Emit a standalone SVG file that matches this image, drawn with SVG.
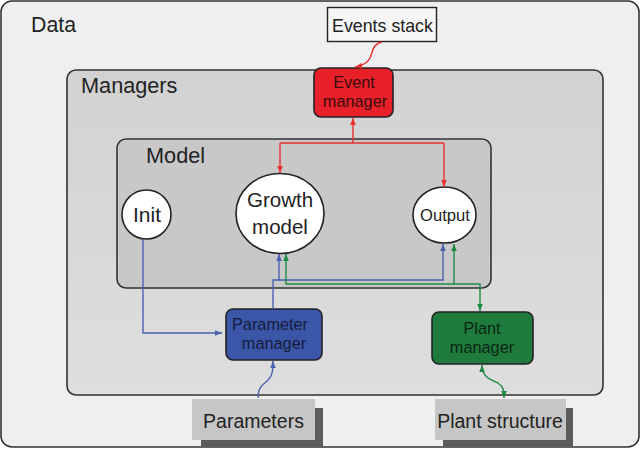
<svg xmlns="http://www.w3.org/2000/svg" width="640" height="449" viewBox="0 0 640 449">
<defs>
<style>
text{font-family:"Liberation Sans",Arial,Helvetica,sans-serif;fill:#222;}
.frame{stroke:#333;stroke-width:1.6;}
.node{stroke:#222;stroke-width:1.6;}
.circ{fill:#fff;stroke:#222;stroke-width:1.6;}
.r{fill:none;stroke:#e8302f;stroke-width:1.4;}
.b{fill:none;stroke:#4a62b0;stroke-width:1.4;}
.g{fill:none;stroke:#1f8a45;stroke-width:1.4;}
.mid{text-anchor:middle;}
</style>
<marker id="ar" viewBox="0 0 10 10" refX="10" refY="5" markerWidth="7" markerHeight="7" markerUnits="userSpaceOnUse" orient="auto-start-reverse"><path d="M0,1 L10,5 L0,9 z" fill="#e8302f"/></marker>
<marker id="ab" viewBox="0 0 10 10" refX="10" refY="5" markerWidth="7" markerHeight="7" markerUnits="userSpaceOnUse" orient="auto-start-reverse"><path d="M0,1 L10,5 L0,9 z" fill="#4a62b0"/></marker>
<marker id="ag" viewBox="0 0 10 10" refX="10" refY="5" markerWidth="7" markerHeight="7" markerUnits="userSpaceOnUse" orient="auto-start-reverse"><path d="M0,1 L10,5 L0,9 z" fill="#1f8a45"/></marker>
<linearGradient id="gm" x1="0" y1="0" x2="0" y2="1"><stop offset="0" stop-color="#d2d2d2"/><stop offset="1" stop-color="#dedede"/></linearGradient>
</defs>

<g id="data">
<rect x="1" y="1" width="638" height="446" rx="11" fill="#efefef" class="frame"/>
<text x="31" y="32" font-size="21.3">Data</text>
</g>

<g id="managers">
<rect x="67" y="70" width="536" height="325" rx="9" fill="url(#gm)" class="frame"/>
<text x="81" y="93" font-size="21.7">Managers</text>
</g>

<g id="model">
<rect x="117" y="139" width="374" height="149" rx="9" fill="#c8c8c8" class="frame"/>
<text x="146" y="163" font-size="21.7">Model</text>
</g>

<g id="events-stack">
<rect x="327.5" y="7.5" width="109" height="34" fill="#f6f6f6" stroke="#222" stroke-width="1.4"/>
<text x="382.5" y="32" font-size="17.8" class="mid">Events stack</text>
</g>

<g id="event-manager">
<rect x="314" y="68" width="79" height="49" rx="7" fill="#e8202a" class="node"/>
<text x="354" y="88" font-size="16.3" class="mid" style="fill:#3a0c0c">Event</text>
<text x="355" y="107" font-size="16.3" class="mid" style="fill:#3a0c0c">manager</text>
</g>

<g id="init">
<circle cx="146.5" cy="214.5" r="24.5" class="circ"/>
<text x="147" y="222" font-size="21" class="mid">Init</text>
</g>

<g id="growth-model">
<ellipse cx="280" cy="213.5" rx="44" ry="40" class="circ"/>
<text x="280" y="207" font-size="20.5" class="mid">Growth</text>
<text x="280" y="234" font-size="20.5" class="mid">model</text>
</g>

<g id="output">
<ellipse cx="444.5" cy="215" rx="31.5" ry="28" class="circ"/>
<text x="445" y="221" font-size="16.6" class="mid">Output</text>
</g>

<g id="parameter-manager">
<rect x="226" y="309" width="96" height="51" rx="7" fill="#3b56a8" class="node"/>
<text x="270" y="330" font-size="16.3" class="mid" style="fill:#141c3a">Parameter</text>
<text x="274" y="349" font-size="16.3" class="mid" style="fill:#141c3a">manager</text>
</g>

<g id="plant-manager">
<rect x="432" y="312" width="101" height="52" rx="7" fill="#1e7b3c" class="node"/>
<text x="482" y="334" font-size="16.3" class="mid" style="fill:#0a2612">Plant</text>
<text x="482" y="353" font-size="16.3" class="mid" style="fill:#0a2612">manager</text>
</g>

<g id="parameters">
<rect x="201" y="408" width="122" height="39" fill="#5c5c5c"/>
<rect x="192" y="399" width="123" height="41" fill="#c6c6c6"/>
<text x="253.5" y="428" font-size="19.5" class="mid">Parameters</text>
</g>

<g id="plant-structure">
<rect x="443" y="408" width="130" height="39" fill="#5c5c5c"/>
<rect x="435" y="399" width="131" height="41" fill="#c6c6c6"/>
<text x="500" y="428" font-size="19.5" class="mid">Plant structure</text>
</g>

<g id="connectors">
<path class="r" d="M382,42 C372,44 373,52 370,58 C367,64 361,66 355,67" marker-end="url(#ar)"/>
<path class="r" d="M353,143 L353,118" marker-end="url(#ar)"/>
<path class="r" d="M280,143 L444,143"/>
<path class="r" d="M280,143 L280,173" marker-end="url(#ar)"/>
<path class="r" d="M444,143 L444,187" marker-end="url(#ar)"/>

<path class="b" d="M143,239 L143,333 L222,333" marker-end="url(#ab)"/>
<path class="b" d="M273,309 L273,280 L443,280 L443,244" marker-end="url(#ab)"/>
<path class="b" d="M279,280 L279,254" marker-end="url(#ab)"/>
<path class="b" d="M258,398 C258,388 262,385 267,381 C272,377 273,372 273,361" marker-end="url(#ab)"/>

<path class="g" d="M286,254 L286,284 L480,284 L480,311" marker-start="url(#ag)" marker-end="url(#ag)"/>
<path class="g" d="M454,284 L454,244" marker-end="url(#ag)"/>
<path class="g" d="M482,365 C482,378 492,380 498,383 C504,387 504,391 504,398" marker-start="url(#ag)" marker-end="url(#ag)"/>
</g>
</svg>
